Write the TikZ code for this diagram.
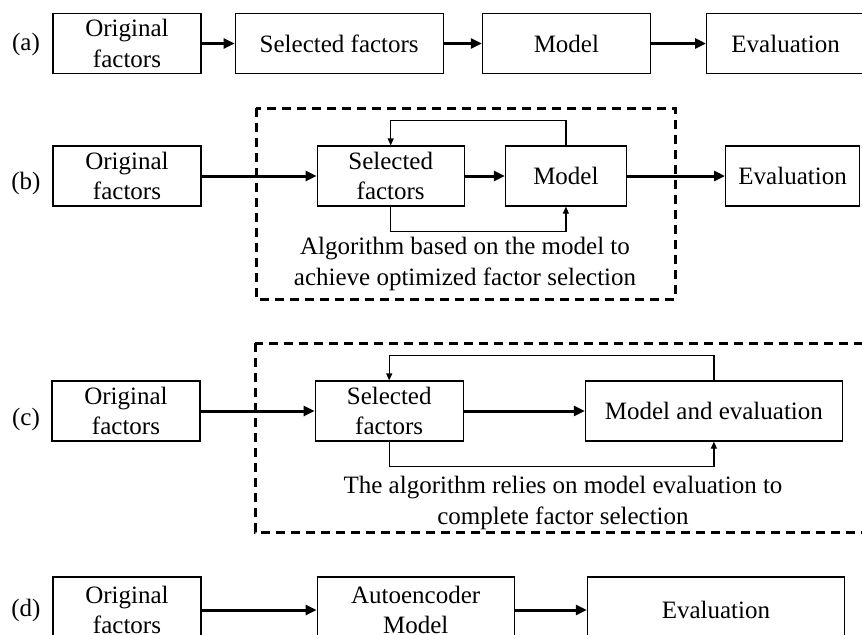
\documentclass[tikz,border=0pt]{standalone}
\usepackage{fontspec}
\setmainfont{Liberation Serif}
\usetikzlibrary{arrows.meta,positioning}

\begin{document}
\begin{tikzpicture}[
  x=0.5pt, y=-0.5pt,
  font=\fontsize{12.5}{15.3}\selectfont,
  block/.style={
    draw,
    line width=0.6pt,
    minimum height=30pt,
    inner sep=1pt,
    align=center
  },
  flow/.style={-{Triangle[length=5.5pt,width=5pt]},line width=1.5pt},
  feedback/.style={-{Triangle[length=3.5pt,width=3pt]},line width=0.6pt},
  algobox/.style={line width=1.5pt,dash pattern=on 4.5pt off 3pt},
  note/.style={align=center,inner sep=0pt}
]
  \clip (0,0) rectangle (862,634);

  % (a) plain pipeline
  \node (la) at (26,44) {(a)};
  \node[block,minimum width=74pt] (a1) at (127,43.5) {Original\\factors};
  \node[block,minimum width=104pt,right=16.5pt of a1] (a2) {Selected factors};
  \node[block,minimum width=84pt,right=19pt of a2] (a3) {Model};
  \node[block,minimum width=79pt,right=27.5pt of a3] (a4) {Evaluation};
  \draw[flow] (a1) -- (a2);
  \draw[flow] (a2) -- (a3);
  \draw[flow] (a3) -- (a4);

  % (b) selection wrapped around the model
  \draw[algobox] (256,108) rectangle (675,299);
  \node (lb) at (26,183) {(b)};
  \node[block,minimum width=74pt] (b1) at (127,176) {Original\\factors};
  \node[block,minimum width=73.5pt,right=57.5pt of b1] (b2) {Selected\\factors};
  \node[block,minimum width=60.5pt,right=20pt of b2] (b3) {Model};
  \node[block,minimum width=67pt,right=49pt of b3] (b4) {Evaluation};
  \node[note] (nb) at (465,264)
    {Algorithm based on the model to\\achieve optimized factor selection};
  \draw[flow] (b1) -- (b2);
  \draw[flow] (b2) -- (b3);
  \draw[flow] (b3) -- (b4);
  \draw[feedback] (b3.north) -- ++(0,-25) -| (b2.north);
  \draw[feedback] (b2.south) -- ++(0,25) -| (b3.south);

  % (c) selection driven by the evaluation
  \draw[algobox] (255,343) rectangle (880,532);
  \node (lc) at (26,419) {(c)};
  \node[block,minimum width=74pt] (c1) at (126,411) {Original\\factors};
  \node[block,minimum width=74pt,right=57pt of c1] (c2) {Selected\\factors};
  \node[block,minimum width=128.5pt,right=60.5pt of c2] (c3) {Model and evaluation};
  \node[note] (nc) at (563,503)
    {The algorithm relies on model evaluation to\\complete factor selection};
  \draw[flow] (c1) -- (c2);
  \draw[flow] (c2) -- (c3);
  \draw[feedback] (c3.north) -- ++(0,-25) -| (c2.north);
  \draw[feedback] (c2.south) -- ++(0,25) -| (c3.south);

  % (d) autoencoder
  \node (ld) at (26,610) {(d)};
  \node[block,minimum width=74pt,minimum height=33pt] (d1) at (127,610) {Original\\factors};
  \node[block,minimum width=98.5pt,minimum height=33pt,right=57.5pt of d1] (d2) {Autoencoder\\Model};
  \node[block,minimum width=128.5pt,minimum height=33pt,right=36pt of d2] (d3) {Evaluation};
  \draw[flow] (d1) -- (d2);
  \draw[flow] (d2) -- (d3);
\end{tikzpicture}
\end{document}
